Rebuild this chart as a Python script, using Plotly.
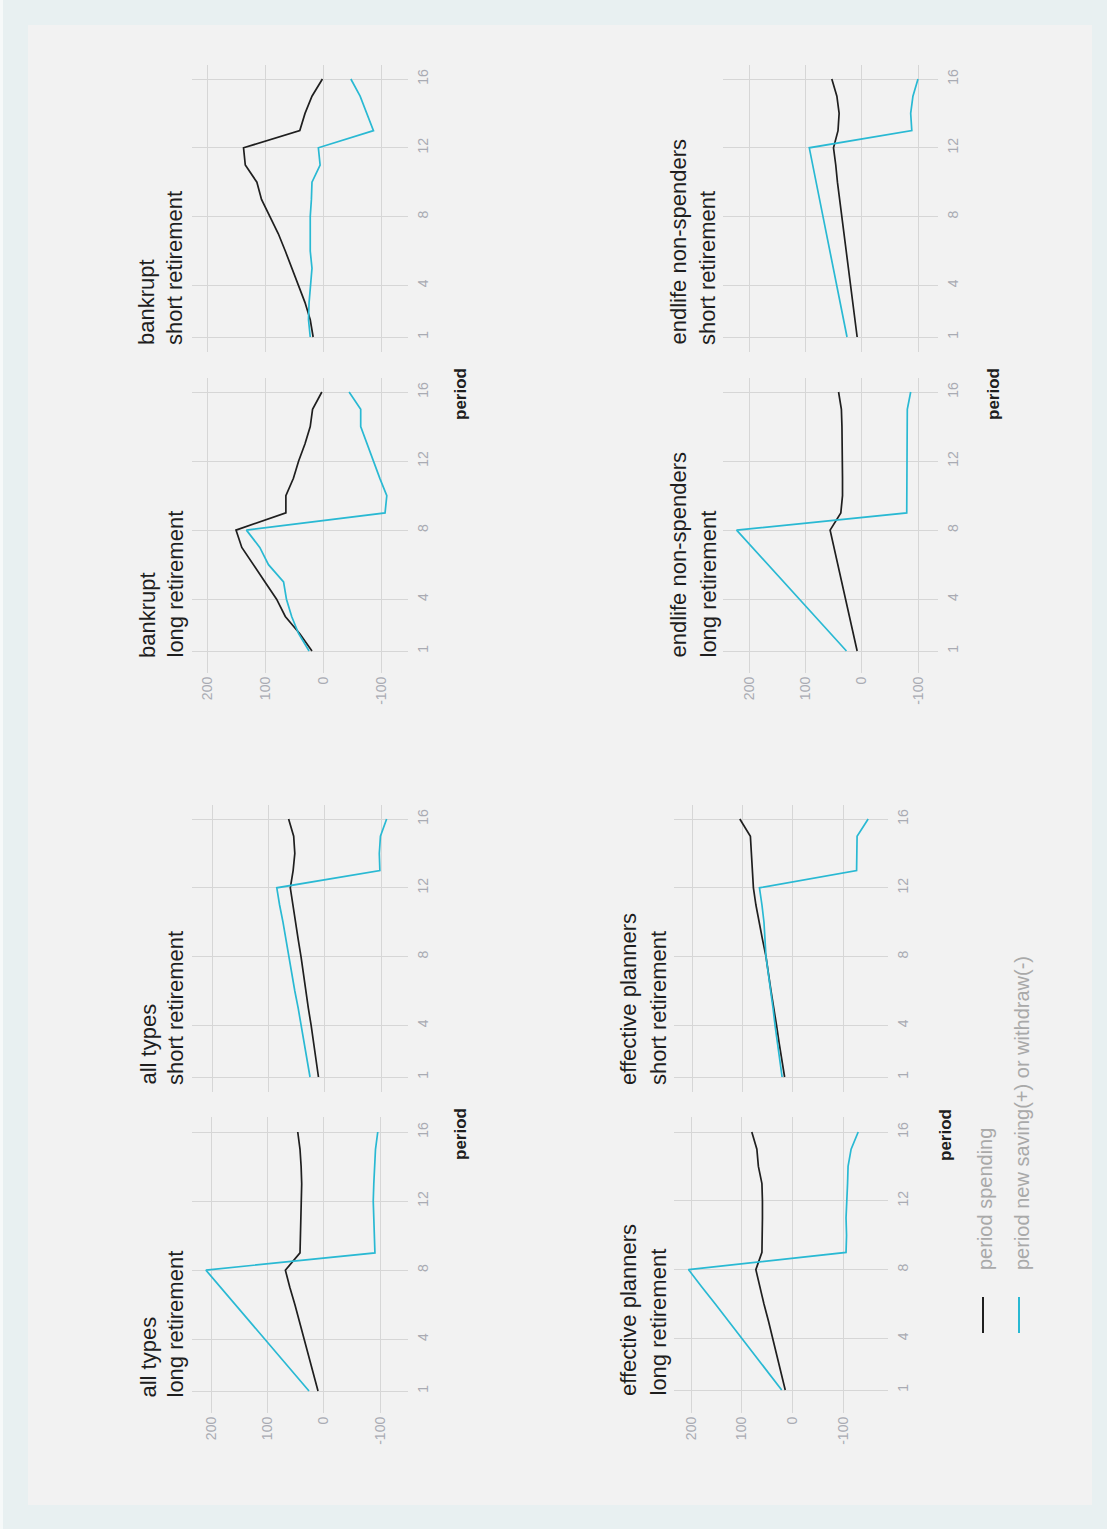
import plotly.graph_objects as go

W, H = 1107, 1529

# ---------------- data ----------------
periods = list(range(1, 17))
value_ticks = [200, 100, 0, -100]
value_ticktext = ["200", "100", "0", "-100"]
period_ticks = [1, 4, 8, 12, 16]
period_ticktext = ["1", "4", "8", "12", "16"]

series_names = ["period spending", "period new saving(+) or withdraw(-)"]

groups = ["all types", "all types", "bankrupt", "bankrupt",
          "effective planners", "effective planners",
          "endlife non-spenders", "endlife non-spenders"]
retirements = ["long retirement", "short retirement"] * 4

spend_all_long = [10, 18, 27, 35, 43, 51, 60, 68, 42, 41, 40, 39, 39, 40, 42, 46]
save_all_long = [26, 52, 78, 104, 131, 157, 183, 209, -91, -90, -89, -88, -89, -90, -92, -96]

spend_all_short = [11, 15, 20, 24, 29, 33, 38, 42, 47, 52, 56, 61, 56, 53, 55, 64]
save_all_short = [26, 31, 37, 42, 47, 53, 58, 64, 69, 74, 80, 85, -98, -97, -99, -110]

spend_bank_long = [19, 40, 65, 80, 100, 120, 140, 150, 64, 64, 51, 42, 31, 22, 18, 2]
save_bank_long = [24, 42, 54, 63, 68, 94, 109, 132, -107, -110, -98, -87, -76, -65, -65, -45]

spend_bank_short = [17, 22, 31, 42, 54, 65, 77, 91, 106, 114, 134, 137, 40, 31, 19, 1]
save_bank_short = [22, 25, 24, 22, 19, 22, 22, 22, 20, 19, 5, 8, -87, -75, -64, -48]

spend_eff_long = [14, 22, 31, 39, 47, 56, 64, 72, 60, 59, 59, 59, 60, 67, 70, 80]
save_eff_long = [21, 47, 74, 100, 126, 152, 179, 205, -106, -107, -106, -108, -109, -110, -116, -130]

spend_eff_short = [16, 22, 27, 32, 38, 43, 48, 53, 60, 67, 73, 78, 80, 82, 84, 105]
save_eff_short = [21, 26, 30, 35, 39, 44, 48, 53, 55, 57, 61, 66, -127, -128, -128, -150]

spend_end_long = [8, 15, 22, 29, 35, 42, 49, 56, 37, 34, 34, 34, 34, 35, 36, 41]
save_end_long = [27, 55, 83, 111, 138, 166, 194, 222, -80, -80, -80, -80, -80, -80, -81, -87]

spend_end_short = [8, 12, 16, 20, 24, 28, 31, 35, 39, 43, 46, 50, 42, 40, 44, 53]
save_end_short = [26, 32, 38, 44, 50, 56, 62, 68, 75, 81, 87, 93, -89, -87, -91, -100]

spending = [spend_all_long, spend_all_short, spend_bank_long, spend_bank_short,
            spend_eff_long, spend_eff_short, spend_end_long, spend_end_short]
saving = [save_all_long, save_all_short, save_bank_long, save_bank_short,
          save_eff_long, save_eff_short, save_end_long, save_end_short]

# ---------------- layout geometry (pixels) ----------------
# (x0, x1, y0, y1, px of 200, px of -100, py of 16, py of 1)
boxes = [
    (192, 408, 1117, 1413, 211, 380, 1132, 1391),
    (192, 408, 805, 1092, 212, 381, 819, 1077),
    (192, 408, 378, 673, 207, 381, 392, 651),
    (192, 408, 65, 352, 207, 381, 79, 337),
    (674, 888, 1117, 1413, 691, 843, 1132, 1390),
    (674, 888, 805, 1092, 692, 843, 819, 1077),
    (723, 938, 378, 673, 749, 918, 392, 651),
    (723, 938, 65, 352, 749, 918, 79, 337),
]
# title line positions: (x line1, x line2, bottom y)
title_pos = [
    (148, 175, 1400), (148, 175, 1087), (147, 175, 660), (147, 175, 347),
    (628, 658, 1398), (628, 658, 1087), (678, 708, 660), (678, 708, 347),
]
period_title_pos = {0: (460, 1162), 2: (460, 422), 4: (945, 1163), 6: (993, 422)}

FONT = "Liberation Sans, Arial, sans-serif"
BLACK = "#1f1f1f"
CYAN = "#29b9d3"
GRID = "#d6d6d6"
TICKC = "#a9abb3"

fig = go.Figure()
layout = dict(
    width=W, height=H,
    margin=dict(l=0, r=0, t=0, b=0),
    paper_bgcolor="#e8f0f1",
    plot_bgcolor="rgba(0,0,0,0)",
    showlegend=False,
    font=dict(family=FONT),
)
annotations = []
shapes = [
    dict(type="rect", xref="paper", yref="paper", x0=0, x1=3 / W, y0=0, y1=1,
         fillcolor="#f6f9f9", line=dict(width=0), layer="below"),
    dict(type="rect", xref="paper", yref="paper", x0=28 / W, x1=1092 / W,
         y0=1 - 1505 / H, y1=1 - 25 / H, fillcolor="#f2f2f2", line=dict(width=0), layer="below"),
]

for i in range(8):
    x0, x1, y0, y1, xa, xb, ya, yb = boxes[i]
    sx = -300.0 / (xb - xa)
    vlo = 200 + (x0 - xa) * sx
    vhi = 200 + (x1 - xa) * sx
    sy = -15.0 / (yb - ya)
    ptop = 16 + (y0 - ya) * sy
    pbot = 16 + (y1 - ya) * sy
    k = "" if i == 0 else str(i + 1)
    is_long = (i % 2 == 0)

    fig.add_trace(go.Scatter(x=spending[i], y=periods, mode="lines", name=series_names[0],
                             line=dict(color=BLACK, width=1.7), xaxis="x" + k, yaxis="y" + k,
                             hoverinfo="skip"))
    fig.add_trace(go.Scatter(x=saving[i], y=periods, mode="lines", name=series_names[1],
                             line=dict(color=CYAN, width=1.7), xaxis="x" + k, yaxis="y" + k,
                             hoverinfo="skip"))

    layout["xaxis" + k] = dict(
        domain=[x0 / W, x1 / W], range=[vlo, vhi], anchor="y" + k,
        tickmode="array", tickvals=value_ticks, ticktext=value_ticktext,
        tickangle=-90, showticklabels=is_long, ticks="",
        tickfont=dict(size=14, color=TICKC, family=FONT),
        showgrid=True, gridcolor=GRID, gridwidth=1, zeroline=False, showline=False,
        fixedrange=True,
    )
    layout["yaxis" + k] = dict(
        domain=[1 - y1 / H, 1 - y0 / H], range=[pbot, ptop], anchor="x" + k,
        side="right", tickmode="array", tickvals=period_ticks, ticktext=period_ticktext,
        tickangle=-90, ticks="", showticklabels=True, ticklabelstandoff=5,
        tickfont=dict(size=14, color=TICKC, family=FONT),
        showgrid=True, gridcolor=GRID, gridwidth=1, zeroline=False, showline=False,
        fixedrange=True,
    )

    tx1, tx2, tb = title_pos[i]
    for txt, tx in ((groups[i], tx1), (retirements[i], tx2)):
        annotations.append(dict(
            text=txt, x=tx / W, y=1 - tb / H, xref="paper", yref="paper",
            xanchor="center", yanchor="bottom", textangle=-90, showarrow=False,
            font=dict(size=22, color="#1e1e1e", family=FONT),
        ))
    if i in period_title_pos:
        px, pb = period_title_pos[i]
        annotations.append(dict(
            text="<b>period</b>", x=px / W, y=1 - pb / H, xref="paper", yref="paper",
            xanchor="center", yanchor="bottom", textangle=-90, showarrow=False,
            font=dict(size=17, color="#1e1e1e", family=FONT),
        ))

# legend (drawn manually, rotated like the rest of the chart)
legend_items = [(983, 985, BLACK, series_names[0]), (1019, 1022, CYAN, series_names[1])]
for lx, tx, col, name in legend_items:
    shapes.append(dict(type="line", xref="paper", yref="paper",
                       x0=lx / W, x1=lx / W, y0=1 - 1333 / H, y1=1 - 1297 / H,
                       line=dict(color=col, width=2)))
    annotations.append(dict(
        text=name, x=tx / W, y=1 - 1272 / H, xref="paper", yref="paper",
        xanchor="center", yanchor="bottom", textangle=-90, showarrow=False,
        font=dict(size=20, color="#a9a9a9", family=FONT),
    ))

layout["annotations"] = annotations
layout["shapes"] = shapes
fig.update_layout(**layout)
fig.write_html("out.html")
